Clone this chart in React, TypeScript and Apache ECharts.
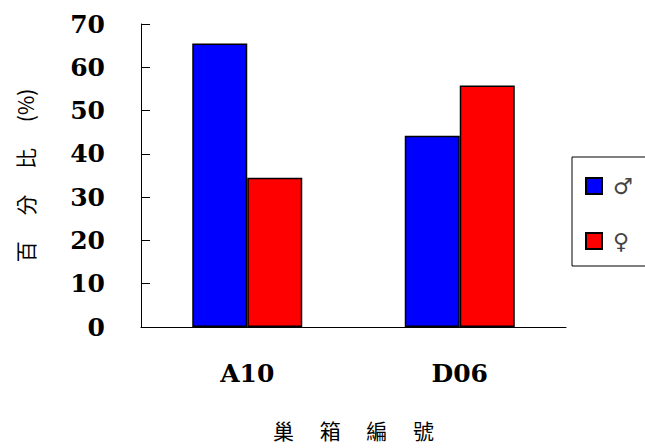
import React, { useEffect, useRef } from "react";
import * as echarts from "echarts";

const categories = ["A10", "D06"];
const maleValues = [65.5, 44.2];
const femaleValues = [34.5, 55.8];
const seriesNames = ["♂", "♀"];
const yTicks = { min: 0, max: 70, interval: 10 };
const xTitle = "巢　 箱　 編　 號";
const yTitle = "百　 分　 比　 (%)";

export default function App() {
  const ref = useRef<HTMLDivElement>(null);
  useEffect(() => {
    if (!ref.current) return;
    const chart = echarts.init(ref.current, undefined, { renderer: "svg" });
    const serif = "DejaVu Serif";
    const cjk = "Noto Sans CJK TC";
    chart.setOption({
      animation: false,
      backgroundColor: "#fff",
      grid: { left: 141, right: 79, top: 24, bottom: 121 },
      legend: {
        orient: "vertical",
        left: 572,
        top: 157,
        padding: [18, 30, 14, 13],
        itemGap: 33,
        itemWidth: 16,
        itemHeight: 16,
        borderColor: "#000",
        borderWidth: 1,
        icon: "rect",
        data: seriesNames,
        textStyle: { fontFamily: "DejaVu Sans", fontSize: 22, color: "#444", padding: [0, 0, 0, 6] },
      },
      xAxis: {
        type: "category",
        data: categories,
        name: xTitle,
        nameLocation: "middle",
        nameGap: 92,
        nameTextStyle: { fontFamily: cjk, fontSize: 21, color: "#000" },
        axisLine: { lineStyle: { color: "#000", width: 1 } },
        axisTick: { inside: true, length: 9, lineStyle: { color: "#000" } },
        axisLabel: { margin: 34, fontFamily: serif, fontWeight: "bold", fontSize: 25, color: "#000" },
      },
      yAxis: {
        type: "value",
        min: yTicks.min,
        max: yTicks.max,
        interval: yTicks.interval,
        name: yTitle,
        nameLocation: "middle",
        nameGap: 106,
        nameRotate: 90,
        nameTextStyle: { fontFamily: cjk, fontSize: 21, color: "#000" },
        splitLine: { show: false },
        axisLine: { show: true, lineStyle: { color: "#000", width: 1 } },
        axisTick: { show: true, inside: true, length: 9, lineStyle: { color: "#000" } },
        axisLabel: { margin: 36, fontFamily: serif, fontWeight: "bold", fontSize: 25, color: "#000" },
      },
      series: [
        {
          name: seriesNames[0],
          type: "bar",
          data: maleValues,
          barWidth: 55,
          barGap: "0%",
          itemStyle: { color: "#0000FF", borderColor: "#000", borderWidth: 1.5 },
        },
        {
          name: seriesNames[1],
          type: "bar",
          data: femaleValues,
          barWidth: 55,
          barGap: "0%",
          itemStyle: { color: "#FF0000", borderColor: "#000", borderWidth: 1.5 },
        },
      ],
    });
    return () => chart.dispose();
  }, []);
  return <div ref={ref} style={{ width: 645, height: 448, position: "absolute", left: 0, top: 0 }} />;
}
